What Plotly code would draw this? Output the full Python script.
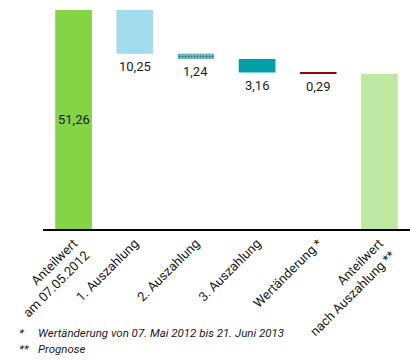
import plotly.graph_objects as go

categories = ["Anteilwert<br>am 07.05.2012", "1. Auszahlung", "2. Auszahlung",
              "3. Auszahlung", "Wertänderung *", "Anteilwert<br>nach Auszahlung **"]
start_value = 51.26
changes = [10.25, 1.24, 3.16, 0.29]   # decreases
change_labels = ["10,25", "1,24", "3,16", "0,29"]
start_label = "51,26"
colors = ["#85d445", "#a1dbec", "#6cc6cf", "#00a0aa", "#8a0a0a", "#bde9a2"]
footnotes = [("*", "Wertänderung von 07. Mai 2012 bis 21. Juni 2013"), ("**", "Prognose")]

W, H = 412, 361
ML, MR, MT, MB = 43, 2, 10, 132

end_value = start_value - sum(changes)

ys, bases = [start_value], [0]
level = start_value
for c in changes:
    ys.append(-c)
    bases.append(level)
    level -= c
ys.append(end_value)
bases.append(0)

fig = go.Figure(go.Bar(
    x=categories, y=ys, base=bases,
    marker=dict(color=colors, line=dict(width=0),
                pattern=dict(shape=["", "", ".", "", "", ""],
                             bgcolor=colors,
                             fgcolor=["#85d445", "#a1dbec", "#4fb3be", "#00a0aa", "#8a0a0a", "#bde9a2"],
                             fgopacity=0.8,
                             size=3, solidity=0.3)),
    width=0.6, hoverinfo="skip",
))

annotations = [dict(x=categories[0], y=start_value / 2, text=start_label, showarrow=False,
                    font=dict(size=13, color="#1a1a1a"))]
level = start_value
for cat, c, lab in zip(categories[1:5], changes, change_labels):
    level -= c
    annotations.append(dict(x=cat, y=level, text=lab, showarrow=False, yanchor="top",
                            yshift=-3, font=dict(size=13, color="#1a1a1a")))


def px_to_paper(px, py):
    return (px - ML) / (W - ML - MR), (H - MB - py) / (H - MT - MB)


for i, (mark, txt) in enumerate(footnotes):
    yy = 333 + i * 16
    xm, ym = px_to_paper(17, yy)
    annotations.append(dict(x=xm, y=ym, xref="paper", yref="paper",
                            text="<i>" + mark + "</i>", showarrow=False, xanchor="left",
                            yanchor="middle", font=dict(size=11.5)))
    xt, yt = px_to_paper(36, yy)
    annotations.append(dict(x=xt, y=yt, xref="paper", yref="paper",
                            text="<i>" + txt + "</i>", showarrow=False, xanchor="left",
                            yanchor="middle", font=dict(size=11.5)))

fig.update_layout(
    width=W, height=H,
    margin=dict(l=ML, r=MR, t=MT, b=MB, autoexpand=False),
    paper_bgcolor="white", plot_bgcolor="white",
    font=dict(family="Liberation Sans Narrow, Roboto, sans-serif", size=13, color="#1a1a1a"),
    showlegend=False,
    xaxis=dict(tickangle=-45, showline=True, linecolor="black", linewidth=1.5,
               ticks="", tickfont=dict(size=13)),
    yaxis=dict(visible=False, range=[0, start_value], showgrid=False),
    annotations=annotations,
)

fig.write_html("out.html", config={"displayModeBar": False},
               post_script="document.body.style.margin='0';")
